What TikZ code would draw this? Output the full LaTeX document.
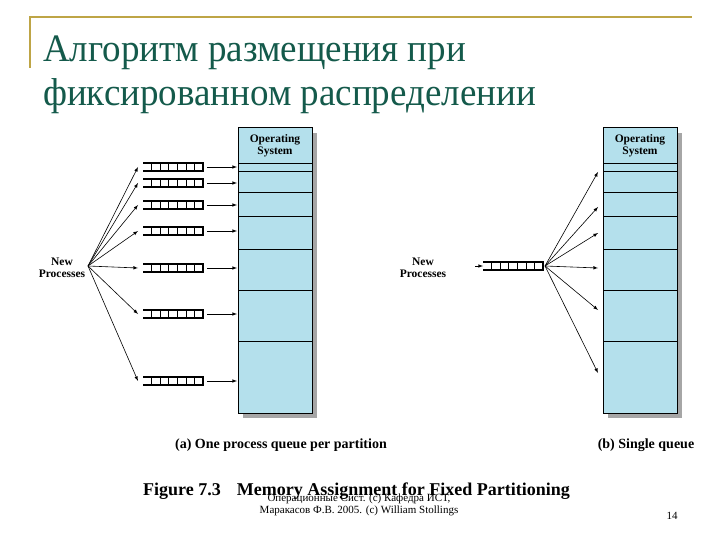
\documentclass[tikz,border=0pt]{standalone}
\usepackage{fontspec}
\setmainfont{Liberation Serif}
\usetikzlibrary{calc}
\begin{document}
\begin{tikzpicture}[x=1pt,y=-1pt,
  q/.style={draw=black,line width=1.3pt},
  arr/.style={-latex,line width=0.6pt},
  lab/.style={font=\bfseries\fontsize{11.5}{12}\selectfont,align=center,inner sep=0pt},
  ttls/.style={anchor=base west,text=ttl,font=\fontsize{37}{38}\selectfont,inner sep=0pt,yscale=1.05}]
\definecolor{memc}{RGB}{180,224,236}
\definecolor{gold}{RGB}{190,165,70}
\definecolor{ttl}{RGB}{20,90,75}
\useasboundingbox (0,0) rectangle (720,540);
\fill[white] (0,0) rectangle (720,540);
\draw[gold,line width=1.5pt] (30,68) -- (30,17) -- (692,17);
\node[ttls] (t1) at (43,62) {Алгоритм размещения при};
\node[ttls] (t2) at (43,106) {фиксированном распределении};
% memory boxes
\foreach \X/\n in {238/L,603/R}{
  \fill[gray!70] (\X+5,133) rectangle (\X+79,418);
  \draw[line width=1pt,fill=memc] (\X,128) rectangle (\X+74,413);
  \foreach \yy in {163,171,192,216,249,290,341} \draw[line width=0.6pt] (\X,\yy) -- (\X+74,\yy);
  \node[lab] (os\n) at (\X+37,146) {Operating\\System};
}
% left queues
\node[lab] (npL) at (62,268) {New\\Processes};
\coordinate (fL) at (88,266);
\foreach \yy [count=\i] in {167,183,205,231,268,314,381}{
  \coordinate (qa\i) at (138,\yy);
  \coordinate (qb\i) at (207,\yy);
  \draw[q] (143,\yy-4) -- (203,\yy-4) -- (203,\yy+4) -- (143,\yy+4);
  \foreach \k in {1,...,6} \draw[line width=0.8pt] (143+\k*8.6,\yy-4) -- (143+\k*8.6,\yy+4);
  \coordinate (mL\i) at (237,\yy);
  \draw[arr] (fL) -- (qa\i);
  \draw[arr] (qb\i) -- (mL\i);
}
% right
\node[lab] (npR) at (423,268) {New\\Processes};
\coordinate (qs) at (483,266);
\draw[q] (483,262) -- (543,262) -- (543,270) -- (483,270);
\foreach \k in {1,...,6} \draw[line width=0.8pt] (483+\k*8.6,262) -- (483+\k*8.6,270);
\coordinate (inR) at (475,266);
\draw[arr] (inR) -- (qs);
\coordinate (fR) at (545,266);
\foreach \yy [count=\i] in {172,207,233,268,310,373}{
  \coordinate (mR\i) at (598,\yy);
  \draw[arr] (fR) -- (mR\i);
}
\node[lab,anchor=base,font=\bfseries\fontsize{14}{15}\selectfont] (ca) at (281,448) {(a) One process queue per partition};
\node[lab,anchor=base,font=\bfseries\fontsize{14}{15}\selectfont] (cb) at (646,448) {(b) Single queue};
\node[anchor=base west,font=\bfseries\fontsize{18}{20}\selectfont,inner sep=0pt] (fig) at (143,495) {Figure 7.3\hspace{16pt}Memory Assignment for Fixed Partitioning};
\node[font=\fontsize{11}{12}\selectfont,align=center,inner sep=0pt] (ft) at (359,505) {Операционные Сист. (с) Кафедра ИСТ,\\Маракасов Ф.В. 2005. (с) William Stollings};
\node[font=\fontsize{11}{12}\selectfont,inner sep=0pt] (pg) at (672,516) {14};
\end{tikzpicture}
\end{document}
